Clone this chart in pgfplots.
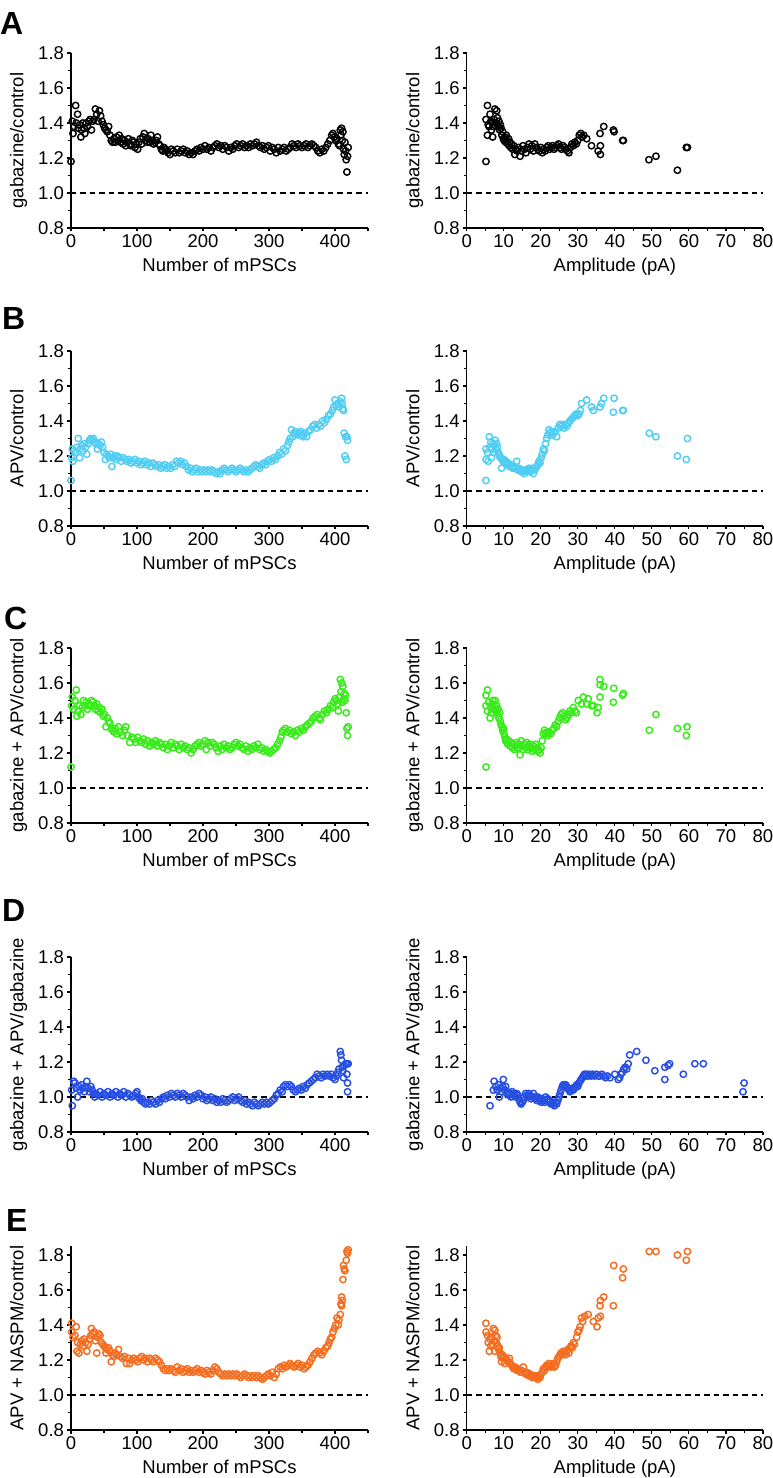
\documentclass[border=0pt]{standalone}
\usepackage{fontspec}
\setmainfont{Liberation Sans}
\usepackage{pgfplots}
\pgfplotsset{compat=1.18}
\definecolor{cyanp}{RGB}{80,205,242}
\definecolor{greenp}{RGB}{55,235,25}
\definecolor{bluep}{RGB}{38,78,225}
\definecolor{orangep}{RGB}{245,108,30}
\pgfplotsset{
  base/.style={
    scale only axis, height=175pt,
    axis x line*=bottom, axis y line*=left,
    axis line style={line width=1.3pt, -},
    tick align=outside, major tick length=3.5pt, minor tick length=3pt,
    every tick/.style={black, line width=1.1pt},
    ymin=0.8, ymax=1.8, ytick={0.8,1,1.2,1.4,1.6,1.8}, minor ytick={0.9,1.1,1.3,1.5,1.7},
    /pgf/number format/assume math mode=true,
    tick label style={font=\fontsize{18.5}{20}\selectfont},
    yticklabel style={/pgf/number format/fixed, /pgf/number format/fixed zerofill, /pgf/number format/precision=1},
    label style={font=\fontsize{18.5}{20}\selectfont},
    xlabel style={at={(axis description cs:0.5,0)}, anchor=base, yshift=-43.4pt},
    ylabel style={at={(axis description cs:-0.16,0.5)}, anchor=base},
    clip=false,
  },
  leftp/.style={base, width=297pt, xmin=0, xmax=450, xtick={0,100,200,300,400}, minor xtick={50,150,250,350,450}, xlabel={Number of mPSCs}},
  rightp/.style={base, width=296.3pt, xmin=0, xmax=80, xtick={0,10,20,30,40,50,60,70,80}, minor xtick={5,15,25,35,45,55,65,75}, xlabel={Amplitude (pA)}},
  pts/.style={only marks, mark=o, mark size=3.2pt, mark options={line width=1.45pt, solid}, color=#1},
  dline/.style={black, line width=1.3pt, dash pattern=on 5.5pt off 4pt, no marks},
}
\begin{document}
\begin{tikzpicture}
\useasboundingbox (0,0) rectangle (773pt,1478pt);
\tikzset{letter/.style={anchor=north west, inner sep=0pt, font=\fontsize{32}{34}\selectfont\bfseries}}
\node[letter] at (0pt,1466pt) {A};
\node[letter] at (2pt,1171pt) {B};
\node[letter] at (4pt,871pt) {C};
\node[letter] at (2pt,579pt) {D};
\node[letter] at (6pt,269pt) {E};

% ---------------- A left
\begin{axis}[leftp, at={(71pt,1250pt)}, anchor=south west, ylabel={gabazine/control}]
\addplot[dline] coordinates {(0,1) (450,1)};
\addplot[pts=black] coordinates {
(0,1.18) (2,1.41) (3,1.34) (5,1.38) (7,1.50) (8,1.40) (10,1.45) (11,1.37) (13,1.39) (15,1.32) (16,1.36) (18,1.40) (20,1.37) (21,1.34) (23,1.40) (25,1.38) (27,1.41) (29,1.42) (31,1.36) (33,1.41) (35,1.42) (37,1.48) (39,1.45) (41,1.41) (43,1.47) (45,1.44) (47,1.41) (49,1.39) (51,1.37) (53,1.36) (55,1.35) (57,1.38) (59,1.33) (61,1.30) (63,1.29) (65,1.31) (67,1.29) (69,1.32) (71,1.30) (73,1.33) (75,1.29) (77,1.31) (79,1.28) (81,1.30) (83,1.27) (85,1.29) (87,1.31) (89,1.28) (91,1.27) (93,1.30) (95,1.29) (97,1.26) (99,1.28) (101,1.25) (103,1.29) (105,1.31) (107,1.28) (109,1.32) (111,1.34) (113,1.30) (115,1.29) (117,1.31) (119,1.29) (121,1.33) (123,1.30) (125,1.28) (127,1.29) (129,1.30) (131,1.32) (133,1.28) (135,1.27) (137,1.25) (139,1.24) (141,1.26) (143,1.25) (145,1.24) (147,1.23) (150,1.22) (152,1.25) (155,1.24) (158,1.23) (161,1.25) (164,1.23) (167,1.24) (170,1.25) (173,1.23) (176,1.24) (179,1.22) (182,1.23) (185,1.22) (188,1.24) (191,1.25) (194,1.24) (197,1.26) (200,1.25) (203,1.27) (206,1.25) (209,1.26) (212,1.24) (215,1.26) (218,1.27) (221,1.28) (224,1.26) (227,1.27) (230,1.25) (233,1.27) (236,1.26) (239,1.24) (242,1.26) (245,1.25) (248,1.27) (251,1.28) (254,1.26) (257,1.27) (260,1.28) (263,1.26) (266,1.27) (269,1.26) (272,1.28) (275,1.27) (278,1.28) (281,1.29) (284,1.27) (287,1.26) (290,1.27) (293,1.25) (296,1.26) (299,1.27) (302,1.24) (305,1.26) (308,1.25) (311,1.23) (314,1.26) (317,1.24) (320,1.25) (323,1.26) (326,1.24) (329,1.25) (332,1.26) (335,1.28) (338,1.27) (341,1.26) (344,1.28) (347,1.27) (350,1.26) (353,1.27) (356,1.28) (359,1.26) (362,1.27) (365,1.28) (368,1.27) (371,1.26) (374,1.24) (377,1.23) (380,1.25) (383,1.24) (386,1.26) (389,1.28) (392,1.30) (395,1.33) (397,1.34) (399,1.32) (401,1.30) (403,1.31) (405,1.28) (407,1.27) (408,1.36) (409,1.33) (410,1.37) (411,1.30) (412,1.35) (413,1.25) (414,1.22) (415,1.29) (416,1.24) (417,1.19) (418,1.12) (419,1.21) (420,1.26)
};
\end{axis}
% ---------------- A right
\begin{axis}[rightp, at={(466.7pt,1250pt)}, anchor=south west, ylabel={gabazine/control}]
\addplot[dline] coordinates {(0,1) (80,1)};
\addplot[pts=black] coordinates {
(5.2,1.18) (5.2,1.42) (5.6,1.50) (5.6,1.33) (5.8,1.39) (6.0,1.38) (6.3,1.45) (6.5,1.41) (6.7,1.36) (6.9,1.40) (7.0,1.32) (7.2,1.38) (7.4,1.42) (7.6,1.48) (7.8,1.40) (8.1,1.47) (8.3,1.43) (8.5,1.38) (8.7,1.41) (8.9,1.36) (9.1,1.39) (9.3,1.37) (9.5,1.33) (9.7,1.35) (9.9,1.31) (10.1,1.30) (10.3,1.32) (10.5,1.29) (10.7,1.33) (10.9,1.30) (11.1,1.28) (11.3,1.31) (11.5,1.27) (11.7,1.29) (11.9,1.26) (12.1,1.28) (12.4,1.25) (12.7,1.27) (13.0,1.22) (13.3,1.25) (13.6,1.24) (14.0,1.26) (14.4,1.21) (14.8,1.24) (15.2,1.27) (15.6,1.25) (16.0,1.23) (16.4,1.26) (16.8,1.28) (17.2,1.25) (17.6,1.27) (18.0,1.24) (18.4,1.28) (18.8,1.26) (19.2,1.25) (19.6,1.24) (20.0,1.26) (20.4,1.23) (20.8,1.25) (21.2,1.24) (21.6,1.26) (22.0,1.27) (22.4,1.25) (22.8,1.26) (23.2,1.27) (23.6,1.25) (24.0,1.26) (24.4,1.27) (24.8,1.28) (25.2,1.26) (25.6,1.25) (26.0,1.27) (26.4,1.26) (26.8,1.25) (27.2,1.24) (27.6,1.23) (28.0,1.26) (28.4,1.28) (28.8,1.27) (29.2,1.29) (29.6,1.28) (30.0,1.30) (30.4,1.33) (30.8,1.34) (31.2,1.32) (31.6,1.33) (32.4,1.31) (33.7,1.27) (35.5,1.24) (36.1,1.27) (36.1,1.22) (36.0,1.34) (37.0,1.38) (39.6,1.36) (39.8,1.35) (42.1,1.30) (42.3,1.30) (49.2,1.19) (51.1,1.21) (56.9,1.13) (59.3,1.26) (59.6,1.26)
};
\end{axis}

% ---------------- B left
\begin{axis}[leftp, at={(71pt,952pt)}, anchor=south west, ylabel={APV/control}]
\addplot[dline] coordinates {(0,1) (450,1)};
\addplot[pts=cyanp] coordinates {
(0,1.06) (1,1.19) (2,1.24) (3,1.17) (5,1.23) (7,1.22) (9,1.25) (11,1.30) (13,1.19) (14,1.24) (16,1.26) (18,1.23) (20,1.27) (22,1.25) (24,1.21) (26,1.27) (28,1.29) (30,1.30) (32,1.29) (34,1.30) (36,1.28) (38,1.27) (40,1.24) (42,1.27) (44,1.26) (46,1.28) (48,1.25) (50,1.22) (52,1.18) (54,1.21) (56,1.20) (58,1.19) (60,1.21) (62,1.14) (64,1.19) (66,1.20) (68,1.18) (70,1.20) (73,1.19) (76,1.17) (79,1.19) (82,1.18) (85,1.17) (88,1.18) (91,1.16) (94,1.17) (97,1.18) (100,1.16) (103,1.17) (106,1.15) (109,1.16) (112,1.17) (115,1.15) (118,1.16) (121,1.14) (124,1.16) (127,1.15) (130,1.14) (133,1.15) (136,1.13) (139,1.14) (142,1.15) (145,1.13) (148,1.14) (151,1.13) (154,1.15) (157,1.14) (160,1.17) (163,1.16) (166,1.17) (169,1.15) (172,1.16) (175,1.14) (178,1.12) (181,1.13) (184,1.11) (187,1.12) (190,1.13) (193,1.11) (196,1.12) (199,1.11) (202,1.12) (205,1.11) (208,1.12) (211,1.11) (214,1.12) (217,1.11) (220,1.10) (223,1.11) (226,1.10) (229,1.12) (232,1.13) (235,1.12) (238,1.11) (241,1.12) (244,1.13) (247,1.12) (250,1.11) (253,1.12) (256,1.13) (259,1.12) (262,1.11) (265,1.12) (268,1.11) (271,1.12) (274,1.13) (277,1.14) (280,1.15) (283,1.14) (286,1.13) (289,1.15) (292,1.16) (295,1.15) (298,1.17) (301,1.18) (304,1.17) (307,1.19) (310,1.18) (313,1.20) (316,1.22) (319,1.21) (322,1.24) (325,1.23) (328,1.26) (330,1.28) (332,1.30) (334,1.35) (336,1.31) (338,1.33) (340,1.34) (342,1.33) (344,1.32) (346,1.33) (348,1.34) (350,1.32) (352,1.31) (354,1.33) (357,1.31) (360,1.34) (363,1.35) (366,1.37) (369,1.38) (372,1.36) (375,1.38) (378,1.37) (381,1.40) (384,1.39) (387,1.41) (390,1.43) (393,1.44) (396,1.46) (398,1.48) (400,1.52) (402,1.49) (404,1.50) (406,1.48) (408,1.51) (410,1.53) (411,1.50) (412,1.47) (413,1.46) (414,1.33) (415,1.20) (416,1.31) (417,1.18) (418,1.31) (419,1.29)
};
\end{axis}
% ---------------- B right
\begin{axis}[rightp, at={(466.7pt,952pt)}, anchor=south west, ylabel={APV/control}]
\addplot[dline] coordinates {(0,1) (80,1)};
\addplot[pts=cyanp] coordinates {
(5.2,1.06) (5.2,1.18) (5.2,1.24) (5.6,1.22) (5.8,1.17) (6.1,1.31) (6.3,1.25) (6.5,1.28) (6.7,1.19) (6.9,1.24) (7.1,1.27) (7.3,1.22) (7.5,1.26) (7.7,1.29) (7.9,1.24) (8.1,1.27) (8.3,1.25) (8.5,1.22) (8.7,1.21) (8.9,1.20) (9.1,1.19) (9.4,1.13) (9.6,1.18) (9.8,1.17) (10.0,1.18) (10.3,1.16) (10.6,1.17) (10.9,1.15) (11.2,1.16) (11.5,1.14) (11.8,1.15) (12.1,1.14) (12.4,1.13) (12.7,1.14) (13.0,1.13) (13.5,1.17) (13.8,1.12) (14.1,1.13) (14.4,1.12) (14.7,1.11) (15.0,1.12) (15.3,1.11) (15.6,1.10) (15.9,1.12) (16.2,1.11) (16.5,1.12) (16.8,1.13) (17.1,1.11) (17.4,1.12) (17.7,1.13) (18.0,1.10) (18.3,1.12) (18.6,1.13) (18.9,1.14) (19.2,1.15) (19.5,1.17) (19.8,1.16) (20.1,1.19) (20.4,1.21) (20.7,1.24) (21.0,1.23) (21.3,1.27) (21.6,1.30) (21.9,1.32) (22.2,1.35) (22.5,1.33) (22.8,1.34) (23.1,1.32) (23.5,1.33) (23.9,1.34) (24.3,1.31) (24.7,1.36) (25.1,1.38) (25.5,1.37) (25.9,1.38) (26.3,1.36) (26.7,1.38) (27.1,1.37) (27.5,1.39) (27.9,1.40) (28.3,1.41) (28.7,1.42) (29.1,1.43) (29.5,1.44) (29.9,1.43) (30.3,1.44) (30.7,1.46) (31.0,1.50) (32.4,1.52) (33.7,1.48) (34.2,1.46) (36.0,1.48) (36.4,1.50) (37.0,1.53) (39.6,1.45) (39.8,1.53) (42.1,1.46) (42.3,1.46) (49.3,1.33) (51.1,1.31) (56.9,1.20) (59.3,1.18) (59.6,1.30)
};
\end{axis}

% ---------------- C left
\begin{axis}[leftp, at={(71pt,655pt)}, anchor=south west, ylabel={gabazine + APV/control}]
\addplot[dline] coordinates {(0,1) (450,1)};
\addplot[pts=greenp] coordinates {
(0,1.12) (1,1.47) (2,1.52) (4,1.45) (6,1.50) (8,1.56) (9,1.41) (11,1.44) (13,1.47) (15,1.42) (17,1.46) (19,1.50) (21,1.47) (23,1.49) (25,1.45) (27,1.48) (29,1.47) (31,1.50) (33,1.49) (35,1.47) (37,1.45) (39,1.48) (41,1.44) (43,1.46) (45,1.43) (47,1.45) (49,1.41) (51,1.42) (53,1.35) (55,1.40) (57,1.38) (59,1.37) (61,1.34) (63,1.33) (65,1.32) (67,1.34) (69,1.31) (72,1.35) (75,1.32) (78,1.30) (81,1.33) (83,1.35) (86,1.30) (89,1.26) (92,1.29) (95,1.28) (98,1.26) (101,1.29) (104,1.27) (107,1.26) (110,1.28) (113,1.25) (116,1.27) (119,1.24) (122,1.26) (125,1.25) (128,1.27) (131,1.24) (134,1.26) (137,1.25) (140,1.23) (143,1.25) (146,1.22) (149,1.24) (152,1.26) (155,1.23) (158,1.25) (161,1.24) (164,1.22) (167,1.25) (170,1.23) (173,1.24) (176,1.22) (179,1.23) (182,1.20) (185,1.22) (188,1.24) (191,1.25) (194,1.26) (197,1.24) (200,1.25) (203,1.27) (205,1.22) (208,1.26) (211,1.24) (214,1.26) (217,1.25) (220,1.23) (223,1.21) (226,1.24) (229,1.22) (232,1.25) (235,1.23) (238,1.24) (241,1.22) (244,1.23) (247,1.25) (250,1.26) (253,1.24) (256,1.25) (259,1.23) (262,1.22) (265,1.24) (268,1.21) (271,1.23) (274,1.22) (277,1.24) (280,1.23) (283,1.25) (286,1.22) (289,1.23) (292,1.21) (295,1.22) (298,1.21) (301,1.20) (304,1.21) (307,1.22) (310,1.23) (313,1.25) (316,1.27) (318,1.29) (320,1.32) (322,1.33) (325,1.34) (328,1.32) (331,1.33) (334,1.31) (337,1.32) (340,1.30) (343,1.33) (346,1.32) (349,1.34) (352,1.33) (355,1.35) (358,1.36) (361,1.37) (364,1.38) (367,1.40) (370,1.41) (373,1.42) (376,1.40) (378,1.39) (381,1.42) (384,1.44) (387,1.43) (390,1.45) (393,1.47) (396,1.46) (398,1.49) (400,1.51) (402,1.50) (404,1.48) (405,1.44) (407,1.52) (408,1.62) (409,1.55) (410,1.60) (411,1.49) (412,1.58) (413,1.51) (414,1.54) (415,1.50) (416,1.53) (417,1.43) (418,1.34) (419,1.30) (420,1.35)
};
\end{axis}
% ---------------- C right
\begin{axis}[rightp, at={(466.7pt,655pt)}, anchor=south west, ylabel={gabazine + APV/control}]
\addplot[dline] coordinates {(0,1) (80,1)};
\addplot[pts=greenp] coordinates {
(5.2,1.12) (5.2,1.53) (5.6,1.56) (5.2,1.47) (5.6,1.44) (5.9,1.49) (6.3,1.40) (6.5,1.46) (6.7,1.43) (6.9,1.48) (7.1,1.50) (7.3,1.45) (7.5,1.47) (7.7,1.50) (7.9,1.44) (8.1,1.47) (8.3,1.42) (8.5,1.45) (8.7,1.40) (8.9,1.43) (9.1,1.38) (9.3,1.36) (9.5,1.35) (9.7,1.33) (9.9,1.34) (10.1,1.31) (10.3,1.29) (10.5,1.27) (10.7,1.28) (10.9,1.26) (11.1,1.25) (11.4,1.27) (11.7,1.24) (12.0,1.26) (12.3,1.23) (12.6,1.25) (12.9,1.22) (13.2,1.24) (13.5,1.26) (13.8,1.23) (14.1,1.25) (14.4,1.19) (14.7,1.27) (15.0,1.24) (15.3,1.22) (15.6,1.25) (15.9,1.23) (16.2,1.26) (16.5,1.22) (16.8,1.24) (17.1,1.25) (17.4,1.23) (17.7,1.21) (18.0,1.24) (18.3,1.22) (18.6,1.25) (18.9,1.23) (19.2,1.21) (19.5,1.22) (19.8,1.20) (20.1,1.23) (20.4,1.27) (20.7,1.31) (21.0,1.33) (21.3,1.31) (21.6,1.32) (21.9,1.30) (22.3,1.32) (22.7,1.31) (23.1,1.33) (23.5,1.34) (23.9,1.36) (24.3,1.35) (24.7,1.38) (25.1,1.40) (25.5,1.42) (25.9,1.43) (26.3,1.41) (26.7,1.39) (27.1,1.40) (27.5,1.42) (27.9,1.44) (28.3,1.43) (28.8,1.46) (29.2,1.44) (29.6,1.43) (30.1,1.50) (31.5,1.52) (31.0,1.48) (32.4,1.48) (32.8,1.51) (33.7,1.47) (34.2,1.47) (35.2,1.43) (35.5,1.46) (36.0,1.62) (36.0,1.59) (37.0,1.58) (36.0,1.52) (39.7,1.57) (39.6,1.49) (42.1,1.53) (42.3,1.54) (49.3,1.33) (51.1,1.42) (56.9,1.34) (59.5,1.35) (59.3,1.30)
};
\end{axis}

% ---------------- D left
\begin{axis}[leftp, at={(71pt,346pt)}, anchor=south west, ylabel={gabazine + APV/gabazine}]
\addplot[dline] coordinates {(0,1) (450,1)};
\addplot[pts=bluep] coordinates {
(2,0.95) (1,1.04) (4,1.09) (6,1.08) (8,1.05) (10,1.00) (12,1.06) (14,1.04) (16,1.07) (18,1.05) (20,1.03) (22,1.06) (24,1.09) (26,1.05) (28,1.03) (30,1.06) (32,1.04) (34,1.02) (36,1.00) (38,1.02) (41,1.01) (44,1.03) (47,1.00) (50,1.02) (53,1.01) (56,1.03) (59,1.00) (62,1.02) (65,1.01) (68,1.03) (71,1.00) (74,1.02) (77,1.01) (80,1.03) (83,1.00) (86,1.02) (89,1.01) (92,1.00) (95,1.01) (98,1.02) (100,1.03) (102,1.00) (104,0.99) (106,0.98) (108,0.99) (110,0.97) (113,0.96) (116,0.97) (119,0.96) (122,0.98) (125,0.97) (128,0.96) (131,0.98) (134,0.97) (137,0.99) (140,1.00) (143,0.99) (146,1.01) (149,1.00) (152,1.02) (155,1.01) (158,1.00) (161,1.02) (164,1.01) (167,1.00) (170,1.02) (173,1.01) (176,1.00) (179,0.98) (182,1.00) (185,0.99) (188,1.01) (191,1.00) (194,1.02) (197,1.01) (200,0.99) (203,1.00) (206,0.98) (209,0.99) (212,1.00) (215,0.98) (218,0.99) (221,0.97) (224,0.98) (227,0.97) (230,0.99) (233,0.98) (236,0.97) (239,0.98) (242,0.99) (245,1.00) (248,0.98) (251,0.99) (254,1.00) (257,0.98) (260,0.97) (263,0.98) (266,0.96) (269,0.97) (272,0.96) (275,0.95) (278,0.97) (281,0.96) (284,0.95) (287,0.96) (290,0.97) (293,0.96) (296,0.97) (299,0.96) (302,0.97) (305,0.98) (308,0.99) (311,1.01) (314,1.02) (317,1.04) (320,1.03) (322,1.06) (325,1.07) (328,1.06) (331,1.07) (334,1.06) (337,1.04) (340,1.03) (343,1.04) (346,1.05) (349,1.04) (352,1.06) (355,1.05) (358,1.07) (361,1.08) (364,1.09) (367,1.10) (370,1.11) (373,1.13) (376,1.12) (379,1.11) (382,1.13) (385,1.12) (388,1.13) (391,1.12) (394,1.13) (397,1.11) (400,1.10) (402,1.12) (404,1.14) (406,1.16) (408,1.26) (409,1.24) (410,1.21) (411,1.17) (412,1.15) (413,1.11) (414,1.18) (416,1.19) (418,1.13) (418,1.19) (419,1.08) (419,1.03) (420,1.19)
};
\end{axis}
% ---------------- D right
\begin{axis}[rightp, at={(466.7pt,346pt)}, anchor=south west, ylabel={gabazine + APV/gabazine}]
\addplot[dline] coordinates {(0,1) (80,1)};
\addplot[pts=bluep] coordinates {
(6.3,0.95) (7.2,1.04) (7.4,1.09) (7.8,1.06) (8.2,1.04) (8.6,1.07) (8.8,1.00) (9.1,1.05) (9.4,1.03) (9.7,1.06) (9.9,1.10) (10.2,1.04) (10.5,1.06) (10.8,1.02) (11.1,1.03) (11.4,1.01) (11.7,1.02) (12.0,1.00) (12.3,1.03) (12.6,1.01) (12.9,1.02) (13.2,1.00) (13.5,1.02) (13.8,1.01) (14.1,0.99) (14.4,0.97) (14.7,0.96) (15.0,0.97) (15.3,0.98) (15.6,1.00) (15.9,1.02) (16.2,1.01) (16.5,1.00) (16.8,1.02) (17.1,1.01) (17.4,0.99) (17.7,1.00) (18.0,1.02) (18.3,1.00) (18.6,0.99) (18.9,0.98) (19.2,1.00) (19.5,0.99) (19.8,0.98) (20.1,0.97) (20.4,0.99) (20.7,0.98) (21.0,0.97) (21.3,1.00) (21.6,0.98) (21.9,0.99) (22.2,0.97) (22.5,0.98) (22.8,0.96) (23.1,0.97) (23.4,0.96) (23.7,0.95) (24.0,0.97) (24.3,0.96) (24.6,0.98) (24.9,1.00) (25.2,1.02) (25.5,1.04) (25.8,1.06) (26.1,1.07) (26.4,1.06) (26.7,1.07) (27.0,1.06) (27.3,1.05) (27.6,1.04) (27.9,1.03) (28.2,1.04) (28.5,1.05) (28.8,1.04) (29.1,1.05) (29.4,1.06) (29.7,1.07) (30.0,1.06) (30.3,1.08) (30.6,1.09) (30.9,1.10) (31.2,1.11) (31.5,1.12) (31.8,1.13) (32.1,1.12) (32.4,1.13) (32.8,1.12) (33.2,1.13) (33.6,1.12) (34.0,1.13) (34.5,1.12) (35.0,1.13) (35.5,1.12) (36.0,1.12) (36.5,1.13) (37.0,1.12) (37.5,1.11) (38.0,1.12) (38.7,1.11) (40.0,1.13) (40.9,1.10) (41.3,1.11) (41.6,1.13) (42.0,1.14) (42.4,1.16) (42.8,1.17) (43.2,1.16) (43.6,1.19) (44.0,1.24) (45.9,1.26) (48.4,1.21) (50.8,1.15) (53.5,1.10) (53.5,1.17) (54.4,1.18) (54.8,1.19) (58.5,1.13) (61.6,1.19) (63.9,1.19) (74.6,1.03) (74.9,1.08)
};
\end{axis}

% ---------------- E left
\begin{axis}[leftp, at={(71pt,48pt)}, anchor=south west, ymax=1.85, height=183.75pt, ylabel={APV + NASPM/control}]
\addplot[dline] coordinates {(0,1) (450,1)};
\addplot[pts=orangep] coordinates {
(1,1.41) (1,1.36) (3,1.33) (6,1.34) (8,1.39) (9,1.25) (10,1.30) (12,1.24) (14,1.29) (16,1.31) (18,1.28) (20,1.32) (22,1.30) (24,1.25) (26,1.29) (28,1.32) (30,1.34) (31,1.38) (33,1.35) (35,1.36) (37,1.31) (39,1.24) (40,1.33) (42,1.35) (44,1.34) (46,1.30) (48,1.29) (50,1.28) (52,1.27) (53,1.24) (55,1.26) (57,1.27) (59,1.25) (61,1.19) (63,1.23) (65,1.22) (67,1.24) (69,1.23) (72,1.26) (75,1.22) (78,1.21) (81,1.22) (84,1.18) (87,1.21) (89,1.18) (92,1.20) (95,1.21) (98,1.20) (101,1.19) (104,1.21) (107,1.22) (110,1.20) (113,1.21) (116,1.19) (119,1.21) (122,1.20) (125,1.19) (128,1.21) (131,1.20) (134,1.19) (137,1.17) (140,1.15) (143,1.14) (146,1.15) (149,1.14) (152,1.15) (155,1.14) (158,1.13) (161,1.16) (164,1.14) (167,1.15) (170,1.13) (173,1.14) (176,1.15) (179,1.13) (182,1.14) (185,1.13) (188,1.14) (191,1.15) (194,1.13) (197,1.14) (200,1.13) (203,1.12) (206,1.14) (209,1.13) (212,1.12) (215,1.14) (218,1.16) (221,1.15) (224,1.13) (227,1.12) (230,1.11) (233,1.12) (236,1.11) (239,1.12) (242,1.11) (245,1.12) (248,1.11) (251,1.12) (254,1.11) (257,1.10) (260,1.11) (263,1.12) (266,1.11) (269,1.10) (272,1.11) (275,1.10) (278,1.11) (281,1.10) (284,1.11) (287,1.10) (290,1.09) (293,1.10) (296,1.11) (299,1.12) (302,1.11) (305,1.13) (308,1.10) (311,1.12) (314,1.15) (317,1.16) (320,1.15) (323,1.17) (326,1.16) (329,1.17) (332,1.18) (335,1.17) (338,1.16) (341,1.17) (344,1.18) (347,1.16) (350,1.17) (353,1.15) (356,1.16) (359,1.17) (362,1.19) (365,1.21) (368,1.23) (371,1.24) (374,1.25) (377,1.24) (380,1.23) (383,1.25) (386,1.27) (389,1.28) (391,1.30) (393,1.32) (395,1.33) (397,1.36) (399,1.38) (401,1.40) (403,1.44) (405,1.40) (406,1.43) (408,1.46) (409,1.52) (410,1.56) (410,1.51) (411,1.54) (412,1.66) (413,1.74) (414,1.72) (415,1.71) (417,1.77) (418,1.82) (419,1.81) (420,1.83)
};
\end{axis}
% ---------------- E right
\begin{axis}[rightp, at={(466.7pt,48pt)}, anchor=south west, ymax=1.85, height=183.75pt, ylabel={APV + NASPM/control}]
\addplot[dline] coordinates {(0,1) (80,1)};
\addplot[pts=orangep] coordinates {
(5.2,1.41) (5.2,1.36) (5.6,1.34) (5.8,1.30) (6.1,1.25) (6.3,1.32) (6.5,1.28) (6.7,1.33) (6.9,1.29) (7.2,1.38) (7.4,1.31) (7.6,1.37) (7.6,1.25) (7.8,1.34) (8.0,1.30) (8.2,1.33) (8.4,1.28) (8.6,1.26) (8.8,1.27) (9.0,1.24) (9.2,1.22) (9.4,1.19) (9.6,1.23) (9.8,1.21) (10.0,1.22) (10.3,1.18) (10.6,1.21) (10.9,1.20) (11.2,1.19) (11.5,1.21) (11.8,1.18) (12.1,1.17) (12.4,1.16) (12.7,1.15) (13.0,1.16) (13.3,1.15) (13.6,1.14) (13.9,1.15) (14.2,1.14) (14.5,1.13) (14.8,1.14) (15.3,1.16) (15.6,1.13) (15.9,1.12) (16.2,1.13) (16.5,1.12) (16.8,1.11) (17.1,1.12) (17.4,1.11) (17.7,1.10) (18.0,1.11) (18.3,1.10) (18.6,1.11) (18.9,1.10) (19.2,1.09) (19.5,1.11) (19.8,1.10) (20.1,1.12) (20.4,1.13) (20.7,1.15) (21.0,1.14) (21.3,1.16) (21.6,1.17) (21.9,1.16) (22.2,1.18) (22.5,1.17) (22.8,1.16) (23.1,1.17) (23.4,1.18) (23.7,1.16) (24.0,1.17) (24.3,1.19) (24.6,1.21) (24.9,1.22) (25.2,1.23) (25.5,1.24) (25.8,1.23) (26.1,1.25) (26.4,1.24) (26.7,1.23) (27.0,1.25) (27.3,1.26) (27.6,1.24) (27.9,1.27) (28.2,1.28) (28.5,1.27) (28.8,1.30) (29.1,1.29) (29.7,1.33) (30.0,1.36) (30.3,1.37) (30.6,1.39) (31.0,1.44) (31.3,1.42) (31.9,1.45) (32.8,1.46) (34.2,1.42) (35.2,1.39) (35.5,1.44) (36.1,1.45) (36.0,1.51) (36.1,1.54) (37.0,1.56) (39.6,1.51) (39.7,1.74) (42.1,1.67) (42.3,1.72) (49.3,1.82) (51.1,1.82) (56.9,1.80) (59.3,1.77) (59.6,1.82)
};
\end{axis}
\end{tikzpicture}
\end{document}
